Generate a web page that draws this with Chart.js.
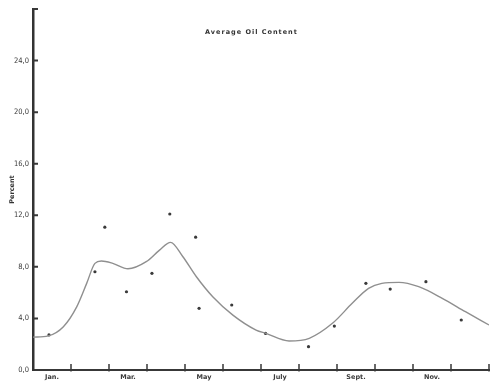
<!DOCTYPE html>
<html>
<head>
<meta charset="utf-8">
<title>Average Oil Content</title>
<script src="https://cdn.jsdelivr.net/npm/chart.js@4"></script>
<style>
  html, body { margin: 0; padding: 0; background: #fff; }
  #chart { display: block; }
</style>
</head>
<body>
<canvas id="chart" width="493" height="383"></canvas>
<script>
// --- Data ---

const chartTitle = 'Average Oil Content';
const yTitle = 'Percent';

// one entry per month, only every other month is labelled
const monthLabels = ['Jan.', '', 'Mar.', '', 'May', '', 'July', '', 'Sept.', '', 'Nov.', ''];
const yTickLabels = ['0,0', '4,0', '8,0', '12,0', '16,0', '20,0', '24,0', ''];

// individual samples (month as fraction of the year, oil %)
const sampleMonth = [0.42, 1.63, 1.89, 2.46, 3.13, 3.60, 4.28, 4.37, 5.23, 6.12, 7.25, 7.93, 8.76, 9.40, 10.34, 11.27];
const sampleOil   = [2.72, 7.62, 11.08, 6.07, 7.50, 12.10, 10.30, 4.78, 5.04, 2.84, 1.81, 3.41, 6.72, 6.28, 6.85, 3.88];

// smoothed seasonal trend
const trendMonth = [0, 0.40, 0.80, 1.15, 1.41, 1.63, 1.80, 2.10, 2.50, 2.98, 3.33, 3.62, 3.94, 4.30, 4.73, 5.26, 5.87, 6.13, 6.74, 7.27, 7.88, 8.40, 8.83, 9.18, 9.63, 10.15, 10.77, 11.38, 12];
const trendOil   = [2.55, 2.65, 3.36, 4.90, 6.70, 8.27, 8.45, 8.27, 7.85, 8.40, 9.30, 9.90, 8.80, 7.23, 5.68, 4.26, 3.10, 2.84, 2.25, 2.46, 3.62, 5.17, 6.33, 6.72, 6.80, 6.46, 5.56, 4.52, 3.49];

const toXY = (xs, ys) => xs.map((x, i) => ({ x, y: ys[i] }));

// --- Plugins ---

// inward tick marks on both axes plus the title set inside the plot
const axisMarks = {
  id: 'axisMarks',
  afterDraw(chart) {
    const { ctx, chartArea, scales: { x, y } } = chart;
    ctx.save();
    ctx.strokeStyle = '#383838';

    ctx.lineWidth = 1.5;
    ctx.beginPath();
    for (let m = 1; m <= 12; m++) {
      const px = x.getPixelForValue(m);
      ctx.moveTo(px, chartArea.bottom + 1.5);
      ctx.lineTo(px, chartArea.bottom - 6);
    }
    ctx.stroke();

    ctx.lineWidth = 2;
    ctx.beginPath();
    y.ticks.forEach(t => {
      if (t.value === 0) return;
      const py = y.getPixelForValue(t.value);
      ctx.moveTo(chartArea.left, py);
      ctx.lineTo(chartArea.left + 5, py);
    });
    ctx.stroke();

    ctx.font = 'bold 6.5px "DejaVu Sans"';
    ctx.letterSpacing = '1px';
    ctx.fillStyle = '#333';
    ctx.textAlign = 'center';
    ctx.textBaseline = 'middle';
    ctx.fillText(chartTitle, chart.width * 0.51, 32);
    ctx.restore();
  }
};

// --- Chart ---

new Chart(document.getElementById('chart'), {
  type: 'scatter',
  data: {
    datasets: [
      {
        label: 'Trend',
        data: toXY(trendMonth, trendOil),
        showLine: true,
        borderColor: '#8f8f8f',
        borderWidth: 1.4,
        pointRadius: 0,
        cubicInterpolationMode: 'monotone',
        fill: false
      },
      {
        label: 'Samples',
        data: toXY(sampleMonth, sampleOil),
        pointRadius: 1.6,
        pointBackgroundColor: '#3a3a3a',
        pointBorderWidth: 0
      }
    ]
  },
  options: {
    responsive: false,
    devicePixelRatio: 1,
    animation: false,
    layout: { padding: { top: 9, right: 2, left: 0, bottom: 0 } },
    plugins: {
      legend: { display: false },
      tooltip: { enabled: false }
    },
    scales: {
      x: {
        type: 'linear',
        min: 0,
        max: 12,
        grid: { display: false, drawTicks: false },
        border: { display: true, color: '#383838', width: 2 },
        ticks: {
          stepSize: 0.5,
          autoSkip: false,
          maxRotation: 0,
          maxTicksLimit: 30,
          padding: 3,
          color: '#3a3a3a',
          font: { family: '"DejaVu Sans"', size: 6.5, weight: 'bold' },
          callback: v => (v % 1 === 0.5 ? monthLabels[Math.floor(v)] : '')
        },
        afterFit: s => { s.height = 13; }
      },
      y: {
        min: 0,
        max: 28,
        grid: { display: false, drawTicks: false },
        border: { display: true, color: '#333', width: 2.5 },
        ticks: {
          stepSize: 4,
          padding: 4,
          color: '#3a3a3a',
          font: { family: '"DejaVu Sans Condensed", "Liberation Sans Narrow", "DejaVu Sans"', size: 7.5 },
          callback: (v, i) => yTickLabels[i]
        },
        title: {
          display: true,
          text: yTitle,
          color: '#333',
          padding: { top: 8, bottom: 0 },
          font: { family: '"DejaVu Sans"', size: 6.5, weight: 'bold' }
        },
        afterFit: s => { s.width = 33; }
      }
    }
  },
  plugins: [axisMarks]
});
</script>
</body>
</html>
